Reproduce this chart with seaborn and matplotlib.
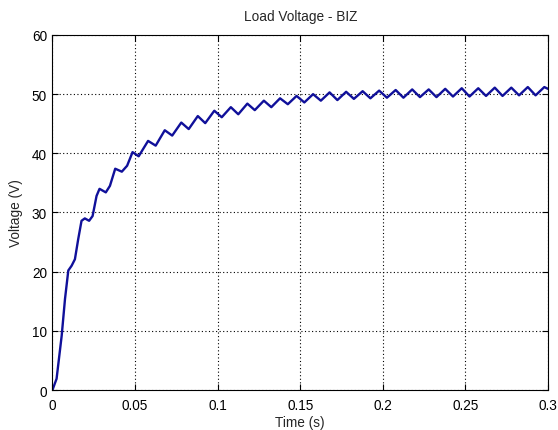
import matplotlib
matplotlib.use("Agg")
import matplotlib.pyplot as plt
import seaborn as sns
import pandas as pd

time_s = [
    0.000, 0.0025, 0.0056, 0.0076, 0.0096, 0.0116, 0.0136, 0.0156, 0.0176, 0.0196,
    0.0222, 0.0243, 0.0267, 0.0285, 0.0323, 0.0348, 0.0380, 0.0420, 0.0452, 0.0485,
    0.0522, 0.0579, 0.0625, 0.0680, 0.0725, 0.0780, 0.0825, 0.0880, 0.0925, 0.0980,
    0.1025, 0.1080, 0.1125, 0.1180, 0.1225, 0.1280, 0.1325, 0.1378, 0.1425, 0.1478,
    0.1525, 0.1578, 0.1625, 0.1678, 0.1725, 0.1778, 0.1825, 0.1878, 0.1925, 0.1978,
    0.2025, 0.2078, 0.2125, 0.2178, 0.2225, 0.2278, 0.2325, 0.2378, 0.2425, 0.2478,
    0.2525, 0.2578, 0.2625, 0.2678, 0.2725, 0.2778, 0.2825, 0.2878, 0.2925, 0.2978,
    0.3000,
]
voltage_v = [
    0.0, 1.9, 9.2, 15.4, 20.2, 21.0, 22.1, 25.5, 28.6, 29.0,
    28.6, 29.4, 32.8, 34.0, 33.4, 34.5, 37.4, 36.9, 37.9, 40.2,
    39.5, 42.1, 41.3, 43.9, 43.0, 45.2, 44.1, 46.3, 45.1, 47.2,
    46.1, 47.8, 46.6, 48.4, 47.3, 48.9, 47.8, 49.3, 48.3, 49.7,
    48.6, 50.0, 48.9, 50.3, 49.0, 50.4, 49.2, 50.5, 49.3, 50.6,
    49.4, 50.7, 49.4, 50.8, 49.5, 50.8, 49.5, 50.9, 49.6, 51.0,
    49.6, 51.0, 49.7, 51.1, 49.7, 51.1, 49.8, 51.2, 49.8, 51.2,
    50.9,
]
x_ticks = [0, 0.05, 0.1, 0.15, 0.2, 0.25, 0.3]
x_tick_labels = ["0", "0.05", "0.1", "0.15", "0.2", "0.25", "0.3"]
y_ticks = [0, 10, 20, 30, 40, 50, 60]

sns.set_style("white")
plt.rcParams["font.family"] = ["Liberation Sans", "DejaVu Sans"]

df = pd.DataFrame({"Time": time_s, "Voltage": voltage_v})

fig = plt.figure(figsize=(5.58, 4.31), dpi=100)
ax = fig.add_axes([0.094, 0.0928, 0.888, 0.8237])
sns.lineplot(data=df, x="Time", y="Voltage", ax=ax, color="#10109a",
             linewidth=1.7, sort=False, estimator=None)

ax.set_xlim(0, 0.3)
ax.set_ylim(0, 60)
ax.set_xticks(x_ticks)
ax.set_xticklabels(x_tick_labels)
ax.set_yticks(y_ticks)
ax.grid(True, linestyle=(0, (1, 2.2)), color="black", linewidth=0.8)
ax.tick_params(axis="both", direction="in", length=4, width=0.8, colors="black",
               labelsize=9.8, top=True, right=True, bottom=True, left=True)
ax.tick_params(axis="x", pad=6)
ax.tick_params(axis="y", pad=4)
for s in ax.spines.values():
    s.set_color("black")
    s.set_linewidth(0.8)
ax.set_xlabel("Time (s)", fontsize=9.8, labelpad=2)
ax.set_ylabel("Voltage (V)", fontsize=9.8, labelpad=6)
ax.set_title("Load Voltage - BIZ", fontsize=9.8, pad=11)

fig.savefig("out.png", dpi=100, facecolor="white")
